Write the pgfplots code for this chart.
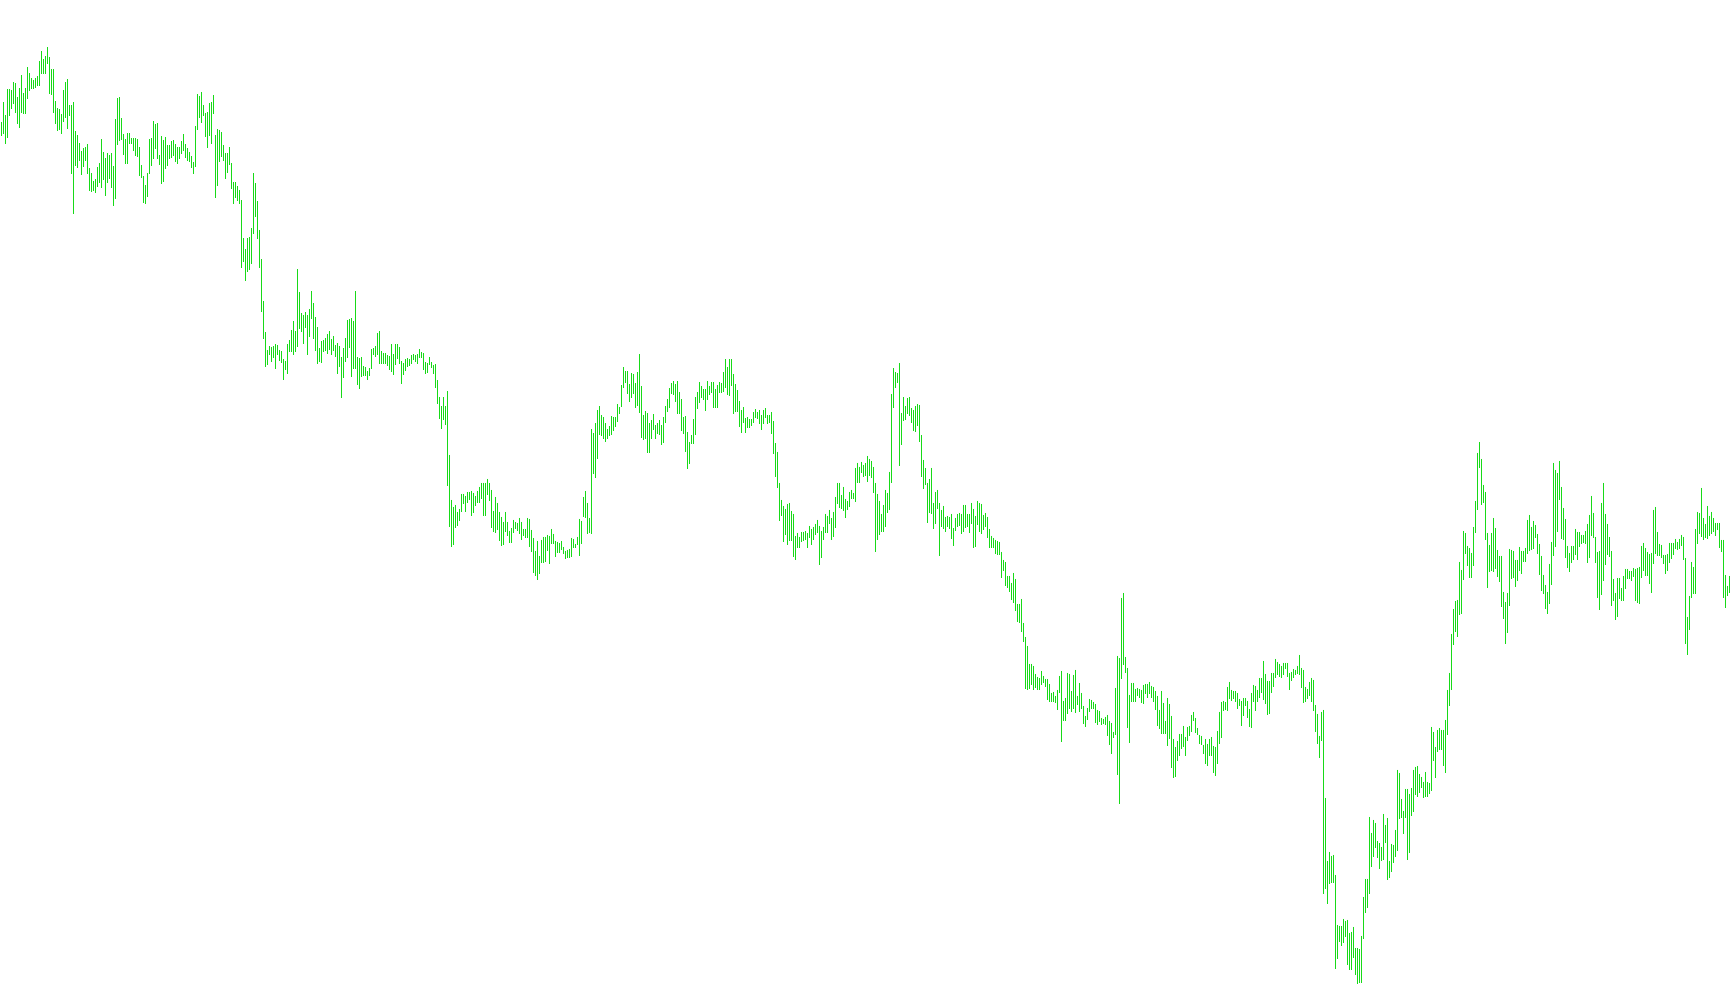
\documentclass[border=0pt]{standalone}
\usepackage{pgfplots}
\usepackage{pgfplotstable}
\pgfplotsset{compat=1.18}
\definecolor{barg}{RGB}{24,218,24}
\pgfplotstableread[row sep=\\]{
x t b\\
1 122 135\\ 3 102 133\\ 5 115 143\\ 7 89 137\\ 9 89 115\\ 11 90 108\\ 13 82 103\\ 15 83 112\\ 17 97 123\\ 19 88 127\\
21 75 112\\ 23 93 113\\ 25 88 113\\ 27 67 98\\ 29 73 90\\ 31 78 88\\ 33 80 88\\ 35 78 87\\ 37 76 85\\ 39 61 85\\
41 51 73\\ 43 59 73\\ 45 56 73\\ 47 47 63\\ 49 57 93\\ 51 69 94\\ 53 69 112\\ 55 101 123\\ 57 108 130\\ 59 109 129\\
61 114 133\\ 63 90 121\\ 65 82 117\\ 67 79 128\\ 69 105 115\\ 71 105 173\\ 73 102 213\\ 75 131 165\\ 77 135 167\\ 79 143 160\\
81 151 174\\ 83 148 166\\ 85 147 160\\ 87 144 173\\ 89 168 190\\ 91 173 191\\ 93 181 190\\ 95 179 192\\ 97 167 186\\ 99 163 182\\
101 139 187\\ 103 152 179\\ 105 158 195\\ 107 153 182\\ 109 155 178\\ 111 153 187\\ 113 166 205\\ 115 119 198\\ 117 98 144\\ 119 97 140\\
121 118 139\\ 123 134 154\\ 125 139 163\\ 127 133 163\\ 129 133 143\\ 131 138 143\\ 133 138 150\\ 135 138 155\\ 137 139 156\\ 139 147 175\\
141 165 177\\ 143 176 202\\ 145 185 203\\ 147 173 196\\ 149 139 173\\ 151 138 165\\ 153 121 158\\ 155 124 148\\ 157 123 158\\ 159 155 164\\
161 136 183\\ 163 140 181\\ 165 137 168\\ 167 145 165\\ 169 145 158\\ 171 141 157\\ 173 140 155\\ 175 144 161\\ 177 147 163\\ 179 147 158\\
181 141 153\\ 183 134 150\\ 185 144 157\\ 187 148 160\\ 189 152 161\\ 191 156 167\\ 193 162 173\\ 195 126 166\\ 197 94 129\\ 199 96 117\\
201 92 122\\ 203 105 115\\ 205 113 136\\ 207 112 147\\ 209 103 135\\ 211 102 143\\ 213 95 113\\ 215 135 197\\ 217 129 185\\ 219 130 161\\
221 132 156\\ 223 145 160\\ 225 153 178\\ 227 153 172\\ 229 147 164\\ 231 163 188\\ 233 182 203\\ 235 182 197\\ 237 186 200\\ 239 190 203\\
241 200 267\\ 243 238 261\\ 245 249 280\\ 247 238 271\\ 249 237 269\\ 251 228 263\\ 253 173 233\\ 255 183 216\\ 257 201 238\\ 259 230 267\\
261 259 311\\ 263 301 338\\ 265 332 366\\ 267 350 364\\ 269 346 354\\ 271 347 361\\ 273 346 357\\ 275 344 368\\ 277 345 354\\ 279 350 360\\
281 351 362\\ 283 359 379\\ 285 361 369\\ 287 344 373\\ 289 340 351\\ 291 330 351\\ 293 321 354\\ 295 331 351\\ 297 269 346\\ 299 292 328\\
301 313 331\\ 303 315 343\\ 305 312 327\\ 307 315 354\\ 309 309 336\\ 311 291 318\\ 313 303 338\\ 315 317 350\\ 317 327 363\\ 319 348 361\\
321 341 362\\ 323 340 351\\ 325 338 350\\ 327 334 353\\ 329 331 349\\ 331 339 354\\ 333 336 350\\ 335 345 356\\ 337 343 373\\ 339 346 366\\
341 357 397\\ 343 348 377\\ 345 338 361\\ 347 320 357\\ 349 319 347\\ 351 318 376\\ 353 321 368\\ 355 291 368\\ 357 357 384\\ 359 358 388\\
361 357 376\\ 363 366 375\\ 365 367 375\\ 367 371 379\\ 369 368 375\\ 371 349 368\\ 373 348 354\\ 375 346 356\\ 377 333 354\\ 379 331 363\\
381 351 363\\ 383 353 363\\ 385 353 363\\ 387 355 365\\ 389 356 369\\ 391 344 371\\ 393 354 374\\ 395 344 364\\ 397 344 358\\ 399 347 363\\
401 361 383\\ 403 363 374\\ 405 359 370\\ 407 358 366\\ 409 359 365\\ 411 355 363\\ 413 354 359\\ 415 355 361\\ 417 354 363\\ 419 349 357\\
421 352 357\\ 423 353 369\\ 425 362 373\\ 427 363 372\\ 429 357 364\\ 431 362 367\\ 433 365 373\\ 435 364 387\\ 437 380 403\\ 439 397 418\\
441 406 428\\ 443 397 419\\ 445 406 424\\ 447 391 485\\ 449 455 526\\ 451 500 546\\ 453 507 544\\ 455 505 527\\ 457 512 525\\ 459 509 520\\
461 494 511\\ 463 494 503\\ 465 496 511\\ 467 492 502\\ 469 492 499\\ 471 491 515\\ 473 493 512\\ 475 496 505\\ 477 491 502\\ 479 487 502\\
481 483 498\\ 483 483 515\\ 485 483 515\\ 487 479 494\\ 489 483 500\\ 491 490 527\\ 493 511 531\\ 495 497 532\\ 497 503 529\\ 499 512 540\\
501 517 545\\ 503 522 544\\ 505 512 531\\ 507 522 535\\ 509 531 542\\ 511 528 542\\ 513 520 532\\ 515 522 528\\ 517 523 530\\ 519 518 533\\
521 522 539\\ 523 529 535\\ 525 529 537\\ 527 518 537\\ 529 519 546\\ 531 530 551\\ 533 538 572\\ 535 551 575\\ 537 541 579\\ 539 556 573\\
541 540 562\\ 543 537 562\\ 545 537 561\\ 547 535 550\\ 549 536 563\\ 551 529 543\\ 553 534 543\\ 555 541 556\\ 557 542 552\\ 559 543 552\\
561 541 549\\ 563 547 553\\ 565 551 558\\ 567 550 557\\ 569 549 557\\ 571 538 556\\ 573 539 547\\ 575 544 547\\ 577 537 544\\ 579 519 555\\
581 521 543\\ 583 497 516\\ 585 491 517\\ 587 503 533\\ 589 518 532\\ 591 429 533\\ 593 433 473\\ 595 423 477\\ 597 410 458\\ 599 406 434\\
601 415 435\\ 603 417 438\\ 605 423 441\\ 607 429 438\\ 609 426 435\\ 611 416 434\\ 613 417 430\\ 615 417 426\\ 617 404 421\\ 619 407 413\\
621 385 406\\ 623 367 387\\ 625 371 382\\ 627 371 393\\ 629 384 401\\ 631 373 397\\ 633 374 393\\ 635 383 407\\ 637 372 405\\ 639 354 412\\
641 386 437\\ 643 415 439\\ 645 411 438\\ 647 413 452\\ 649 423 452\\ 651 420 438\\ 653 414 429\\ 655 425 438\\ 657 423 433\\ 659 420 434\\
661 425 444\\ 663 417 442\\ 665 406 422\\ 667 399 411\\ 669 388 407\\ 671 383 393\\ 673 381 394\\ 675 384 401\\ 677 381 413\\ 679 392 413\\
681 399 430\\ 683 417 433\\ 685 416 451\\ 687 432 468\\ 689 442 463\\ 691 435 443\\ 693 419 443\\ 695 397 434\\ 697 392 408\\ 699 382 402\\
701 386 397\\ 703 389 399\\ 705 389 410\\ 707 381 399\\ 709 386 394\\ 711 382 392\\ 713 382 407\\ 715 389 407\\ 717 385 407\\ 719 382 392\\
721 383 392\\ 723 372 391\\ 725 359 387\\ 727 367 394\\ 729 359 395\\ 731 359 385\\ 733 374 413\\ 735 384 411\\ 737 390 411\\ 739 401 426\\
741 410 432\\ 743 407 422\\ 745 418 432\\ 747 417 427\\ 749 419 427\\ 751 419 425\\ 753 412 422\\ 755 409 417\\ 757 412 418\\ 759 410 423\\
761 415 429\\ 763 410 423\\ 765 408 417\\ 767 415 423\\ 769 415 422\\ 771 412 433\\ 773 421 453\\ 775 443 476\\ 777 452 487\\ 779 483 520\\
781 500 515\\ 783 506 541\\ 785 509 534\\ 787 504 544\\ 789 503 540\\ 791 511 540\\ 793 514 556\\ 795 536 559\\ 797 533 547\\ 799 537 547\\
801 532 541\\ 803 532 540\\ 805 531 539\\ 807 533 547\\ 809 526 537\\ 811 529 544\\ 813 527 539\\ 815 524 534\\ 817 520 532\\ 819 526 564\\
821 531 557\\ 823 527 539\\ 825 514 532\\ 827 516 532\\ 829 510 523\\ 831 518 539\\ 833 512 536\\ 835 497 527\\ 837 483 503\\ 839 483 507\\
841 495 508\\ 843 487 510\\ 845 499 517\\ 847 501 509\\ 849 492 506\\ 851 490 498\\ 853 493 498\\ 855 468 501\\ 857 463 482\\ 859 467 482\\
861 462 472\\ 863 465 476\\ 865 463 475\\ 867 456 481\\ 869 459 475\\ 871 461 477\\ 873 467 492\\ 875 483 551\\ 877 494 539\\ 879 501 534\\
881 514 531\\ 883 505 531\\ 885 490 526\\ 887 493 512\\ 889 472 509\\ 891 394 482\\ 893 368 407\\ 895 372 387\\ 897 373 382\\ 899 363 465\\
901 413 444\\ 903 397 420\\ 905 406 419\\ 907 398 413\\ 909 397 415\\ 911 408 422\\ 913 410 430\\ 915 406 431\\ 917 404 425\\ 919 405 441\\
921 435 476\\ 923 460 488\\ 925 468 484\\ 927 483 522\\ 929 479 512\\ 931 468 513\\ 933 503 528\\ 935 492 523\\ 937 490 508\\ 939 503 555\\
941 510 526\\ 943 506 528\\ 945 517 531\\ 947 516 526\\ 949 517 528\\ 951 514 538\\ 953 528 545\\ 955 518 530\\ 957 514 526\\ 959 513 525\\
961 514 533\\ 963 505 531\\ 965 505 527\\ 967 514 526\\ 969 514 532\\ 971 503 523\\ 973 509 547\\ 975 516 546\\ 977 501 524\\ 979 503 531\\
981 504 533\\ 983 515 529\\ 985 513 526\\ 987 517 537\\ 989 529 547\\ 991 536 547\\ 993 538 547\\ 995 540 553\\ 997 541 554\\ 999 542 554\\
1001 552 577\\ 1003 560 570\\ 1005 562 585\\ 1007 576 587\\ 1009 576 591\\ 1011 583 599\\ 1013 573 602\\ 1015 579 610\\ 1017 604 621\\ 1019 604 622\\
1021 599 631\\ 1023 623 641\\ 1025 637 688\\ 1027 646 689\\ 1029 664 688\\ 1031 664 684\\ 1033 666 689\\ 1035 674 687\\ 1037 677 689\\ 1039 678 689\\
1041 671 684\\ 1043 676 682\\ 1045 679 686\\ 1047 679 699\\ 1049 684 701\\ 1051 693 701\\ 1053 692 701\\ 1055 696 702\\ 1057 690 709\\ 1059 676 692\\
1061 671 741\\ 1063 701 720\\ 1065 698 720\\ 1067 673 713\\ 1069 674 708\\ 1071 691 711\\ 1073 675 708\\ 1075 670 712\\ 1077 696 704\\ 1079 683 711\\
1081 693 708\\ 1083 706 723\\ 1085 716 726\\ 1087 708 719\\ 1089 699 711\\ 1091 700 708\\ 1093 702 708\\ 1095 704 722\\ 1097 710 724\\ 1099 711 721\\
1101 718 724\\ 1103 719 723\\ 1105 717 724\\ 1107 715 735\\ 1109 721 744\\ 1111 723 753\\ 1113 732 737\\ 1115 688 734\\ 1117 656 774\\ 1119 658 803\\
1121 598 678\\ 1123 593 664\\ 1125 657 672\\ 1127 668 727\\ 1129 695 742\\ 1131 683 701\\ 1133 683 701\\ 1135 689 701\\ 1137 688 695\\ 1139 689 697\\
1141 690 702\\ 1143 685 703\\ 1145 684 693\\ 1147 684 697\\ 1149 682 693\\ 1151 686 697\\ 1153 687 701\\ 1155 691 709\\ 1157 696 725\\ 1159 710 728\\
1161 691 733\\ 1163 703 733\\ 1165 721 733\\ 1167 698 745\\ 1169 704 738\\ 1171 716 767\\ 1173 739 777\\ 1175 747 776\\ 1177 741 760\\ 1179 734 755\\
1181 734 748\\ 1183 726 746\\ 1185 737 755\\ 1187 727 740\\ 1189 726 735\\ 1191 715 731\\ 1193 712 720\\ 1195 718 732\\ 1197 728 734\\ 1199 735 743\\
1201 736 744\\ 1203 745 753\\ 1205 739 763\\ 1207 744 765\\ 1209 739 755\\ 1211 737 755\\ 1213 746 772\\ 1215 747 775\\ 1217 731 763\\ 1219 712 743\\
1221 702 737\\ 1223 701 710\\ 1225 702 709\\ 1227 687 710\\ 1229 682 698\\ 1231 690 700\\ 1233 691 698\\ 1235 691 701\\ 1237 693 708\\ 1239 699 705\\
1241 701 725\\ 1243 698 715\\ 1245 698 705\\ 1247 701 717\\ 1249 709 726\\ 1251 693 727\\ 1253 685 701\\ 1255 686 710\\ 1257 690 701\\ 1259 678 697\\
1261 678 692\\ 1263 661 699\\ 1265 674 703\\ 1267 681 714\\ 1269 681 713\\ 1271 673 692\\ 1273 673 686\\ 1275 659 677\\ 1277 662 674\\ 1279 664 676\\
1281 666 677\\ 1283 663 674\\ 1285 663 668\\ 1287 663 676\\ 1289 673 689\\ 1291 672 680\\ 1293 669 677\\ 1295 670 674\\ 1297 666 673\\ 1299 655 674\\
1301 668 687\\ 1303 670 702\\ 1305 687 701\\ 1307 689 698\\ 1309 682 695\\ 1311 678 701\\ 1313 680 710\\ 1315 705 731\\ 1317 714 743\\ 1319 736 757\\
1321 712 740\\ 1323 710 893\\ 1325 798 888\\ 1327 861 903\\ 1329 852 883\\ 1331 856 882\\ 1333 855 882\\ 1335 875 968\\ 1337 925 958\\ 1339 926 941\\
1341 926 945\\ 1343 919 942\\ 1345 921 936\\ 1347 920 964\\ 1349 933 969\\ 1351 932 969\\ 1353 927 957\\ 1355 948 974\\ 1357 948 983\\ 1359 949 982\\
1361 936 982\\ 1363 897 938\\ 1365 879 912\\ 1367 879 907\\ 1369 817 893\\ 1371 833 866\\ 1373 820 856\\ 1375 823 847\\ 1377 841 857\\ 1379 843 868\\
1381 847 860\\ 1383 814 859\\ 1385 825 842\\ 1387 818 879\\ 1389 861 877\\ 1391 844 871\\ 1393 845 862\\ 1395 830 856\\ 1397 770 850\\ 1399 773 818\\
1401 799 817\\ 1403 811 833\\ 1405 789 817\\ 1407 789 859\\ 1409 794 852\\ 1411 788 815\\ 1413 770 811\\ 1415 767 794\\ 1417 766 796\\ 1419 774 792\\
1421 777 787\\ 1423 782 797\\ 1425 772 796\\ 1427 782 796\\ 1429 783 793\\ 1431 727 790\\ 1433 732 760\\ 1435 747 777\\ 1437 730 751\\ 1439 728 749\\
1441 730 749\\ 1443 730 765\\ 1445 720 772\\ 1447 690 734\\ 1449 673 705\\ 1451 634 689\\ 1453 609 644\\ 1455 601 631\\ 1457 600 636\\ 1459 562 614\\
1461 570 613\\ 1463 531 579\\ 1465 533 553\\ 1467 546 565\\ 1469 548 577\\ 1471 553 577\\ 1473 527 565\\ 1475 501 532\\ 1477 453 509\\ 1479 442 467\\
1481 459 504\\ 1483 485 502\\ 1485 492 539\\ 1487 533 587\\ 1489 545 571\\ 1491 533 570\\ 1493 518 571\\ 1495 528 568\\ 1497 550 576\\ 1499 556 581\\
1501 556 606\\ 1503 592 618\\ 1505 602 643\\ 1507 593 632\\ 1509 549 605\\ 1511 550 578\\ 1513 551 577\\ 1515 560 586\\ 1517 560 580\\ 1519 547 570\\
1521 551 573\\ 1523 551 561\\ 1525 548 561\\ 1527 520 553\\ 1529 515 550\\ 1531 527 549\\ 1533 521 548\\ 1535 525 537\\ 1537 534 553\\ 1539 544 574\\
1541 556 590\\ 1543 575 593\\ 1545 585 608\\ 1547 592 613\\ 1549 564 603\\ 1551 542 584\\ 1553 463 555\\ 1555 470 546\\ 1557 473 531\\ 1559 461 499\\
1561 487 538\\ 1563 508 539\\ 1565 519 557\\ 1567 546 567\\ 1569 553 571\\ 1571 546 562\\ 1573 546 559\\ 1575 529 554\\ 1577 532 559\\ 1579 532 546\\
1581 535 543\\ 1583 535 542\\ 1585 531 543\\ 1587 524 562\\ 1589 515 557\\ 1591 496 535\\ 1593 513 537\\ 1595 537 562\\ 1597 552 597\\ 1599 551 609\\
1601 503 594\\ 1603 483 580\\ 1605 514 564\\ 1607 524 554\\ 1609 537 556\\ 1611 551 605\\ 1613 579 600\\ 1615 593 619\\ 1617 578 616\\ 1619 578 598\\
1621 588 600\\ 1623 576 600\\ 1625 569 588\\ 1627 569 578\\ 1629 571 578\\ 1631 571 580\\ 1633 568 576\\ 1635 569 600\\ 1637 568 602\\ 1639 567 603\\
1641 546 577\\ 1643 543 570\\ 1645 548 575\\ 1647 552 575\\ 1649 554 583\\ 1651 553 592\\ 1653 510 563\\ 1655 507 553\\ 1657 532 555\\ 1659 544 555\\
1661 545 557\\ 1663 555 563\\ 1665 555 573\\ 1667 554 570\\ 1669 543 562\\ 1671 543 558\\ 1673 543 554\\ 1675 539 548\\ 1677 542 549\\ 1679 539 548\\
1681 535 545\\ 1683 537 559\\ 1685 558 643\\ 1687 617 654\\ 1689 596 629\\ 1691 562 597\\ 1693 567 593\\ 1695 529 593\\ 1697 512 543\\ 1699 513 533\\
1701 488 536\\ 1703 518 539\\ 1705 524 537\\ 1707 506 538\\ 1709 516 535\\ 1711 512 533\\ 1713 518 531\\ 1715 523 535\\ 1717 523 529\\ 1719 523 547\\
1721 540 551\\ 1723 540 597\\ 1725 575 607\\ 1727 586 595\\ 1729 576 592\\
}\data
\begin{document}
\begin{tikzpicture}
\begin{axis}[
  scale only axis,
  width=1730bp, height=1005bp,
  xmin=0, xmax=1730, ymin=0, ymax=1005,
  y dir=reverse,
  hide axis,
]
\addplot[only marks, barg, mark=*, mark size=0pt, mark options={draw=none, fill=none},
  error bars/.cd, y dir=plus, y explicit, error mark=none,
  error bar style={barg, line width=1.25bp}]
  table[x expr=\thisrow{x}+0.5, y=t, y error expr=\thisrow{b}-\thisrow{t}+1] {\data};
\end{axis}
\pgfresetboundingbox
\path (current axis.south west) rectangle (current axis.north east);
\end{tikzpicture}
\end{document}
